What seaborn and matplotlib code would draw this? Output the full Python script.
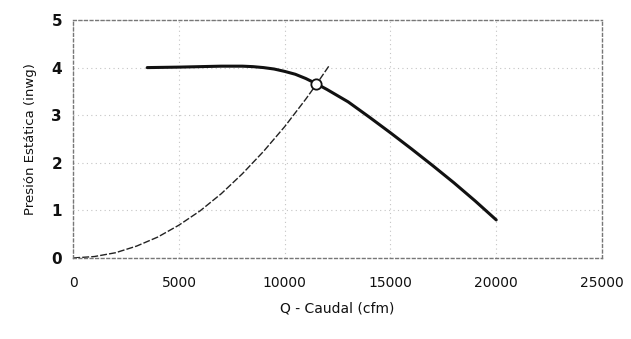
import matplotlib
matplotlib.use("Agg")
import matplotlib.pyplot as plt
import seaborn as sns
import pandas as pd

# Fan curve (solid)
fan_q = [3500, 5000, 6000, 7000, 8000, 8500, 9000, 9500, 10000, 10500, 11000,
         11500, 12000, 12500, 13000, 14000, 15000, 16000, 17000, 18000, 19000, 20000]
fan_p = [4.00, 4.01, 4.02, 4.03, 4.03, 4.02, 4.00, 3.97, 3.92, 3.86, 3.77,
         3.66, 3.54, 3.41, 3.28, 2.96, 2.63, 2.29, 1.94, 1.58, 1.20, 0.80]

# System curve (dashed)
sys_q = [0, 1000, 2000, 3000, 4000, 5000, 6000, 7000, 8000, 9000, 10000,
         11000, 11500, 12100]
sys_p = [0.00, 0.03, 0.11, 0.25, 0.44, 0.69, 0.99, 1.35, 1.77, 2.24, 2.76,
         3.34, 3.65, 4.04]

# Operating point
op_q = [11500]
op_p = [3.66]

x_ticks = [0, 5000, 10000, 15000, 20000, 25000]
y_ticks = [0, 1, 2, 3, 4, 5]
x_label = "Q - Caudal (cfm)"
y_label = "Presión Estática (inwg)"

sns.set_theme(style="white")
plt.rcParams['font.family'] = ['DejaVu Sans']

fig = plt.figure(figsize=(6.31, 3.39), dpi=100)
ax = fig.add_axes([0.116, 0.239, 0.838, 0.702])

fan_df = pd.DataFrame({"q": fan_q, "p": fan_p})
sys_df = pd.DataFrame({"q": sys_q, "p": sys_p})
op_df = pd.DataFrame({"q": op_q, "p": op_p})

sns.lineplot(data=sys_df, x="q", y="p", ax=ax, color="#222222", lw=1.0,
             linestyle=(0, (5, 1.5)))
sns.lineplot(data=fan_df, x="q", y="p", ax=ax, color="#111111", lw=2.2)
sns.scatterplot(data=op_df, x="q", y="p", ax=ax, s=55, facecolor="white",
                edgecolor="#111111", linewidth=1.3, zorder=5)

ax.set_xlim(0, 25000)
ax.set_ylim(0, 5)
ax.set_xticks(x_ticks)
ax.set_yticks(y_ticks)
ax.set_xticklabels([str(t) for t in x_ticks], fontsize=10)
ax.set_yticklabels([str(t) for t in y_ticks], fontsize=11, fontweight="bold")
ax.grid(True, color="#c4c4c4", linestyle=(0, (1, 3)), lw=0.8)
for s in ax.spines.values():
    s.set_color("#777777")
    s.set_linestyle((0, (2, 2)))
    s.set_linewidth(1.0)
ax.tick_params(axis="x", pad=13, length=0, colors="#111111")
ax.tick_params(axis="y", pad=8, length=0, colors="#111111")
ax.set_xlabel(x_label, fontsize=10, labelpad=8, color="#111111")
ax.set_ylabel(y_label, fontsize=9.5, labelpad=10, color="#111111")

fig.savefig("out.png", dpi=100, facecolor="white")
